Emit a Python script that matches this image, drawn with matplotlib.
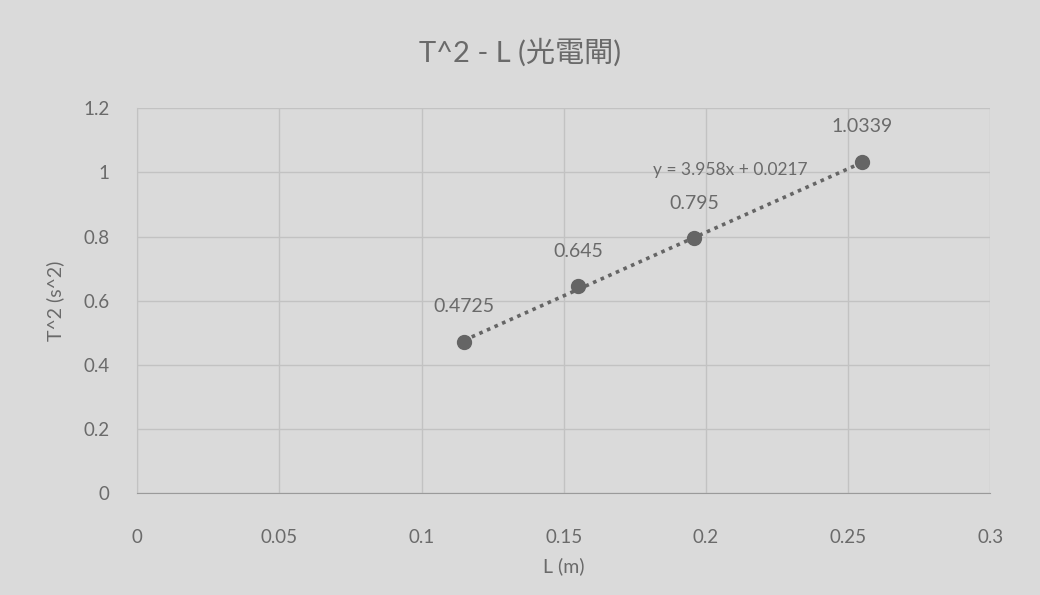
import numpy as np
import matplotlib.pyplot as plt

plt.rcParams['font.family'] = ['Lato', 'Noto Sans CJK TC', 'DejaVu Sans']

# data
L_m = [0.115, 0.155, 0.196, 0.255]
T2_s2 = [0.4725, 0.645, 0.795, 1.0339]
labels = ['0.4725', '0.645', '0.795', '1.0339']
slope, intercept = 3.958, 0.0217
x_ticks = [0, 0.05, 0.1, 0.15, 0.2, 0.25, 0.3]
y_ticks = [0, 0.2, 0.4, 0.6, 0.8, 1, 1.2]

bg = '#dadada'
txt = '#6a6a6a'
grid = '#c2c2c2'
mark = '#656565'

fig = plt.figure(figsize=(10.4, 5.95), dpi=100, facecolor=bg)
ax = fig.add_axes([0.132, 0.171, 0.82, 0.647], facecolor=bg)

# trendline between first and last point
xs = np.array([min(L_m), max(L_m)])
ax.plot(xs, slope * xs + intercept, linestyle=(0, (1, 1.3)), color=mark, lw=2.6, zorder=2)
ax.plot(L_m, T2_s2, 'o', color=mark, markersize=10, zorder=3)

for x, y, s in zip(L_m, T2_s2, labels):
    ax.annotate(s, (x, y), xytext=(0, 25), textcoords='offset points',
                ha='center', va='center', fontsize=14, color=txt)

ax.text(0.2085, 1.007, f'y = {slope}x + {intercept}', ha='center', va='center',
        fontsize=12.5, color=txt)

ax.set_xlim(0, 0.3)
ax.set_ylim(0, 1.2)
ax.set_xticks(x_ticks)
ax.set_yticks(y_ticks)
ax.set_xticklabels([f'{v:g}' for v in x_ticks])
ax.set_yticklabels([f'{v:g}' for v in y_ticks])
ax.tick_params(length=0, labelsize=13.5, labelcolor=txt)
ax.tick_params(axis='x', pad=26)
ax.tick_params(axis='y', pad=20)
ax.grid(True, color=grid, lw=1)
ax.set_axisbelow(True)
for side in ['top', 'right']:
    ax.spines[side].set_visible(False)
ax.spines['left'].set_color(grid)
ax.spines['bottom'].set_color('#9a9a9a')

ax.set_xlabel('L (m)', fontsize=14, color=txt, labelpad=8)
ax.set_ylabel('T^2 (s^2)', fontsize=14, color=txt, labelpad=14)
fig.suptitle('T^2 - L (光電閘)', fontsize=21, color=txt, y=0.935)

fig.savefig('out.png', dpi=100, facecolor=bg)
